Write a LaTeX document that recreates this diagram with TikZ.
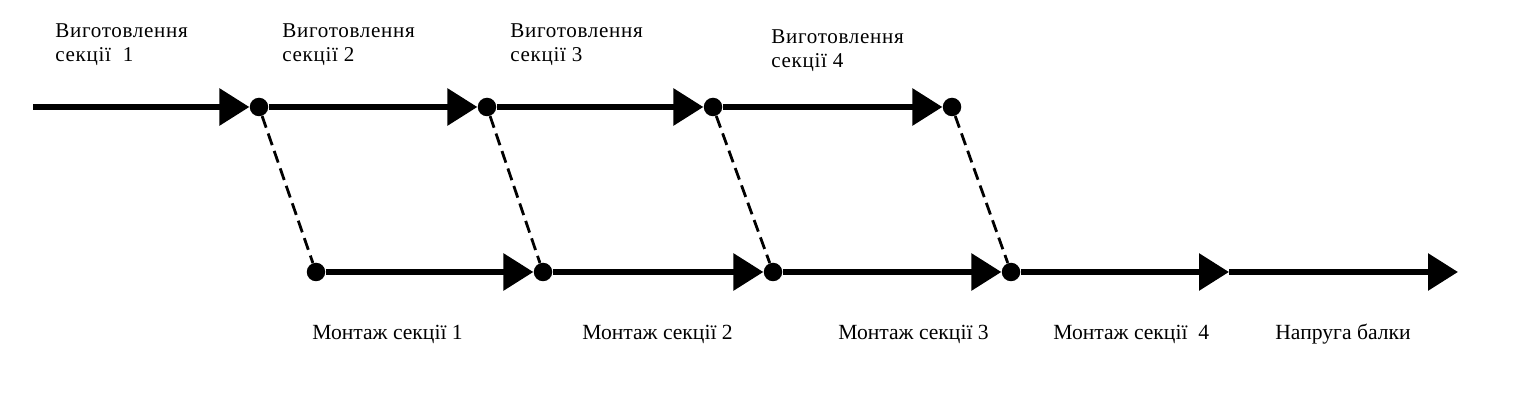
\documentclass[tikz,border=0pt]{standalone}
\usepackage{fontspec}
\setmainfont{Liberation Serif}
\newfontfamily\topfont[LetterSpace=3.2]{Liberation Serif}
\usetikzlibrary{arrows.meta}
\begin{document}
\begin{tikzpicture}[x=0.02cm,y=-0.02cm,
  dot/.style={circle,fill=black,inner sep=0pt,minimum size=0.37cm},
  flow/.style={line width=3.4pt,-{Triangle[length=0.6cm,width=0.72cm]}},
  link/.style={line width=1.6pt,dash pattern=on 7pt off 3.5pt},
  lbl/.style={font=\topfont\fontsize{12}{13.66}\selectfont,align=left,inner sep=0pt,anchor=north west},
  blbl/.style={font=\fontsize{12.3}{14}\selectfont,inner sep=0pt,anchor=base west}]
\useasboundingbox (0,0) rectangle (1516,408);
% top row
\coordinate (s) at (33,107);
\node[dot] (t1) at (259,107) {};
\node[dot] (t2) at (487,107) {};
\node[dot] (t3) at (713,107) {};
\node[dot] (t4) at (952,107) {};
% bottom row
\node[dot] (b1) at (316,272) {};
\node[dot] (b2) at (543,272) {};
\node[dot] (b3) at (773,272) {};
\node[dot] (b4) at (1011,272) {};
\coordinate (b5) at (1229,272);
\coordinate (e) at (1458,272);
\draw[flow] (s) -- (t1);
\draw[flow] (t1) -- (t2);
\draw[flow] (t2) -- (t3);
\draw[flow] (t3) -- (t4);
\draw[flow] (b1) -- (b2);
\draw[flow] (b2) -- (b3);
\draw[flow] (b3) -- (b4);
\draw[flow] (b4) -- (b5);
\draw[flow] (b5) -- (e);
\draw[link] (t1) -- (b1);
\draw[link] (t2) -- (b2);
\draw[link] (t3) -- (b3);
\draw[link] (t4) -- (b4);
% labels
\node[lbl] (l1) at (55,23) {Виготовлення\\секції\ \ 1};
\node[lbl] (l2) at (282,23) {Виготовлення\\секції 2};
\node[lbl] (l3) at (510,23) {Виготовлення\\секції 3};
\node[lbl] (l4) at (771,29) {Виготовлення\\секції 4};
\node[blbl] (m1) at (312,340) {Монтаж секції 1};
\node[blbl] (m2) at (582,340) {Монтаж секції 2};
\node[blbl] (m3) at (838,340) {Монтаж секції 3};
\node[blbl] (m4) at (1053,340) {Монтаж секції\ \ 4};
\node[blbl] (n) at (1275,340) {Напруга балки};
\end{tikzpicture}
\end{document}
